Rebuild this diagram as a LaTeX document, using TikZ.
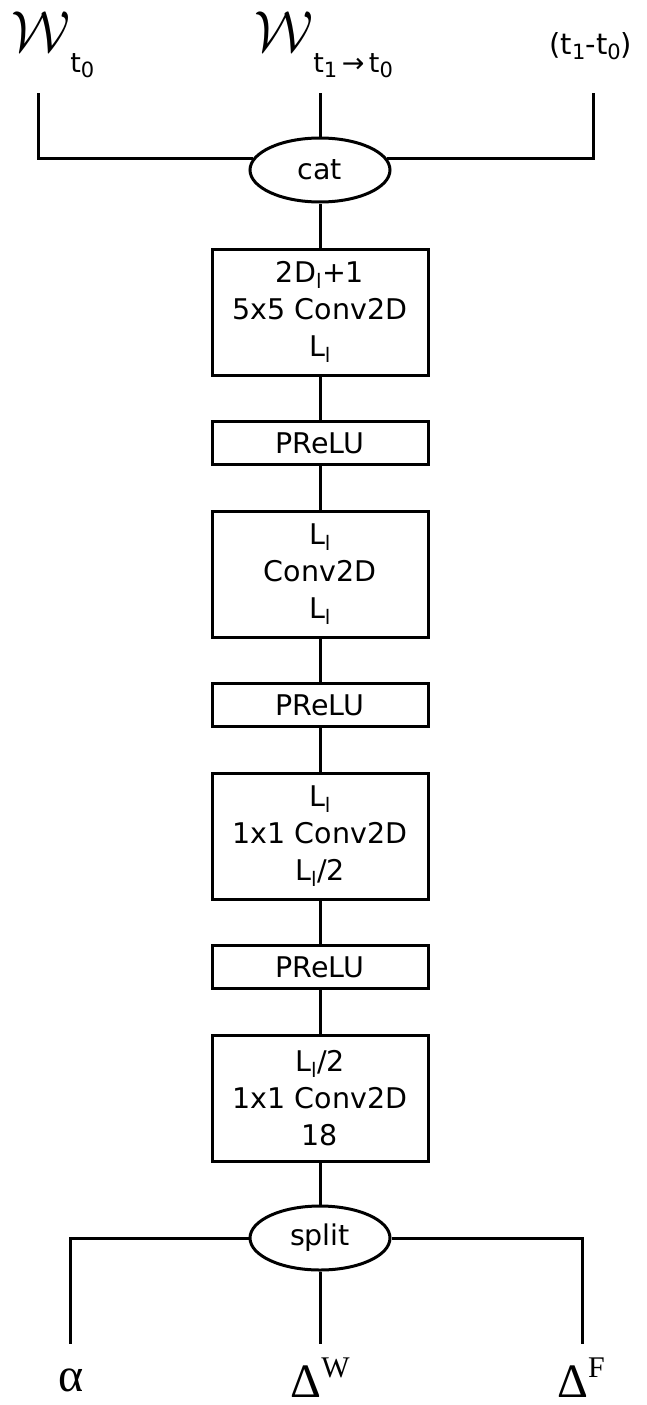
\documentclass[tikz,border=0pt]{standalone}
\usepackage{fontspec}
\setmainfont{DejaVu Sans}
\newfontfamily\greekfont{Liberation Serif}
\usetikzlibrary{shapes.geometric}

% text sizes used in the picture
\newcommand{\boxfont}{\fontsize{28.5}{37}\selectfont}
\newcommand{\subfont}{\fontsize{27}{27}\selectfont}
\newcommand{\subsubfont}{\fontsize{21}{21}\selectfont}
\newcommand{\calW}{\scalebox{5.5}[5.8]{$\mathcal{W}$}}

\begin{document}
\begin{tikzpicture}[
    x=1pt, y=-1pt, % pixel-like units, y pointing down
    line width=3pt,
    convbox/.style={draw, minimum width=216pt, minimum height=126pt, inner sep=0pt, align=center, font=\boxfont}, % conv layers
    actbox/.style={draw, minimum width=216pt, minimum height=43pt, inner sep=0pt, font=\boxfont}, % activations
    joint/.style={draw, ellipse, minimum width=140pt, minimum height=64pt, inner sep=0pt, font=\boxfont}, % cat / split
    outlabel/.style={anchor=base, inner sep=0pt, font=\greekfont\fontsize{48}{48}\selectfont} % outputs
]
    \useasboundingbox (0,0) rectangle (647,1405);

    % Inputs
    \node[anchor=base west, inner sep=0pt] (w0) at (10,52)
        {\calW\raisebox{-21pt}{\subfont t\raisebox{-5pt}{\subsubfont 0}}};
    \node[anchor=base west, inner sep=0pt] (w10) at (253,52)
        {\calW\raisebox{-21pt}{\subfont t\raisebox{-5pt}{\subsubfont 1}\,→\,t\raisebox{-5pt}{\subsubfont 0}}};
    \node[anchor=base west, inner sep=0pt, font=\fontsize{29}{29}\selectfont] (dt) at (548,55)
        {(t\raisebox{-5pt}{\fontsize{21}{21}\selectfont 1}-t\raisebox{-5pt}{\fontsize{21}{21}\selectfont 0})};
    \coordinate (in1) at (38,93);
    \coordinate (in2) at (320,93);
    \coordinate (in3) at (593,93);

    % Network
    \node[joint] (cat) at (320,170) {cat};
    \node[convbox] (conv1) at (320,312) {2D\textsubscript{l}+1\\5x5 Conv2D\\L\textsubscript{l}};
    \node[convbox] (conv2) at (320,574) {L\textsubscript{l}\\Conv2D\\L\textsubscript{l}};
    \node[convbox] (conv3) at (320,836) {L\textsubscript{l}\\1x1 Conv2D\\L\textsubscript{l}/2};
    \node[convbox] (conv4) at (320,1098) {L\textsubscript{l}/2\\1x1 Conv2D\\18};
    \foreach \i/\y in {1/443, 2/705, 3/967} {
        \node[actbox] (act\i) at (320,\y) {PReLU};
    }
    \node[joint] (split) at (320,1238) {split};

    % Outputs
    \coordinate (out1) at (70,1344);
    \coordinate (out2) at (320,1344);
    \coordinate (out3) at (582,1344);
    \node[outlabel] (alpha) at (71,1391) {α};
    \node[outlabel] (dw) at (320,1397) {Δ\raisebox{20pt}{\fontsize{30}{30}\selectfont W}};
    \node[outlabel] (df) at (581,1397) {Δ\raisebox{20pt}{\fontsize{30}{30}\selectfont F}};

    % Connections
    \draw (in1) |- (cat.170);
    \draw (in2) -- (cat);
    \draw (in3) |- (cat.10);
    \foreach \a/\b in {cat/conv1, conv1/act1, act1/conv2, conv2/act2, act2/conv3, conv3/act3, act3/conv4, conv4/split} {
        \draw (\a) -- (\b);
    }
    \draw (split.west) -| (out1);
    \draw (split) -- (out2);
    \draw (split.east) -| (out3);

\end{tikzpicture}
\end{document}
